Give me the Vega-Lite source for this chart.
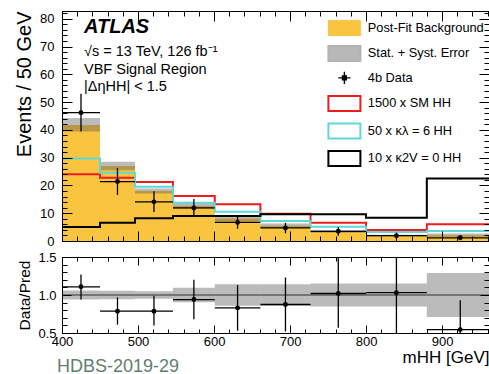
{
  "$schema": "https://vega.github.io/schema/vega-lite/v6.json",
  "background": "white",
  "padding": {"left": 14, "top": 10, "right": 0, "bottom": 0},
  "title": {"text": "HDBS-2019-29", "orient": "bottom", "anchor": "start", "frame": "bounds", "offset": -8, "dx": 43, "fontSize": 18, "fontWeight": "normal", "font": "Liberation Sans", "color": "#5e806e"},
  "datasets": {
    "bins": [
      {"lo": 400, "hi": 450, "mid": 425, "bkg": 41.8, "blo": 39.4, "bhi": 44.3, "d": 46.2, "dlo": 39.4, "dhi": 53.0, "r": 1.108, "rlo": 0.94, "rhi": 1.27, "qlo": 0.94, "qhi": 1.06},
      {"lo": 450, "hi": 496, "mid": 473, "bkg": 27.0, "blo": 25.5, "bhi": 28.5, "d": 21.4, "dlo": 16.6, "dhi": 26.3, "r": 0.787, "rlo": 0.61, "rhi": 0.97, "qlo": 0.945, "qhi": 1.055},
      {"lo": 496, "hi": 546, "mid": 521, "bkg": 18.0, "blo": 17.1, "bhi": 18.9, "d": 14.1, "dlo": 10.4, "dhi": 17.9, "r": 0.787, "rlo": 0.6, "rhi": 0.99, "qlo": 0.95, "qhi": 1.05},
      {"lo": 546, "hi": 601, "mid": 573.5, "bkg": 12.7, "blo": 11.6, "bhi": 13.8, "d": 11.9, "dlo": 8.6, "dhi": 15.1, "r": 0.94, "rlo": 0.68, "rhi": 1.2, "qlo": 0.905, "qhi": 1.095},
      {"lo": 601, "hi": 661, "mid": 631, "bkg": 8.1, "blo": 7.0, "bhi": 9.2, "d": 6.7, "dlo": 4.4, "dhi": 9.0, "r": 0.83, "rlo": 0.53, "rhi": 1.13, "qlo": 0.86, "qhi": 1.14},
      {"lo": 661, "hi": 727, "mid": 694, "bkg": 5.5, "blo": 4.7, "bhi": 6.3, "d": 4.7, "dlo": 2.8, "dhi": 6.5, "r": 0.875, "rlo": 0.52, "rhi": 1.23, "qlo": 0.86, "qhi": 1.14},
      {"lo": 727, "hi": 800, "mid": 763.5, "bkg": 3.5, "blo": 3.0, "bhi": 4.0, "d": 3.5, "dlo": 1.9, "dhi": 5.0, "r": 1.02, "rlo": 0.57, "rhi": 1.6, "qlo": 0.85, "qhi": 1.15},
      {"lo": 800, "hi": 880, "mid": 840, "bkg": 1.95, "blo": 1.65, "bhi": 2.25, "d": 1.9, "dlo": 0.8, "dhi": 3.0, "r": 1.03, "rlo": 0.4, "rhi": 1.6, "qlo": 0.85, "qhi": 1.15},
      {"lo": 880, "hi": 968, "mid": 924, "bkg": 2.1, "blo": 1.5, "bhi": 2.7, "d": 1.15, "dlo": 0.35, "dhi": 1.95, "r": 0.545, "rlo": 0.3, "rhi": 0.93, "qlo": 0.71, "qhi": 1.29}
    ],
    "hist": [
      {"m": 400, "s": "1500 x SM HH", "v": 24.0},
      {"m": 450, "s": "1500 x SM HH", "v": 22.8},
      {"m": 496, "s": "1500 x SM HH", "v": 21.2},
      {"m": 546, "s": "1500 x SM HH", "v": 16.2},
      {"m": 601, "s": "1500 x SM HH", "v": 13.2},
      {"m": 661, "s": "1500 x SM HH", "v": 9.8},
      {"m": 727, "s": "1500 x SM HH", "v": 6.6},
      {"m": 800, "s": "1500 x SM HH", "v": 4.0},
      {"m": 880, "s": "1500 x SM HH", "v": 6.0},
      {"m": 968, "s": "1500 x SM HH", "v": 6.0},
      {"m": 400, "s": "50 x κλ = 6 HH", "v": 29.7},
      {"m": 450, "s": "50 x κλ = 6 HH", "v": 24.6},
      {"m": 496, "s": "50 x κλ = 6 HH", "v": 19.5},
      {"m": 546, "s": "50 x κλ = 6 HH", "v": 13.8},
      {"m": 601, "s": "50 x κλ = 6 HH", "v": 10.5},
      {"m": 661, "s": "50 x κλ = 6 HH", "v": 7.2},
      {"m": 727, "s": "50 x κλ = 6 HH", "v": 5.1},
      {"m": 800, "s": "50 x κλ = 6 HH", "v": 3.2},
      {"m": 880, "s": "50 x κλ = 6 HH", "v": 3.6},
      {"m": 968, "s": "50 x κλ = 6 HH", "v": 3.6},
      {"m": 400, "s": "10 x κ2V = 0 HH", "v": 5.0},
      {"m": 450, "s": "10 x κ2V = 0 HH", "v": 6.6},
      {"m": 496, "s": "10 x κ2V = 0 HH", "v": 8.2},
      {"m": 546, "s": "10 x κ2V = 0 HH", "v": 9.0},
      {"m": 601, "s": "10 x κ2V = 0 HH", "v": 9.0},
      {"m": 661, "s": "10 x κ2V = 0 HH", "v": 9.6},
      {"m": 727, "s": "10 x κ2V = 0 HH", "v": 9.6},
      {"m": 800, "s": "10 x κ2V = 0 HH", "v": 8.4},
      {"m": 880, "s": "10 x κ2V = 0 HH", "v": 22.5},
      {"m": 968, "s": "10 x κ2V = 0 HH", "v": 22.5}
    ]
  },
  "spacing": 16,
  "bounds": "flush",
  "resolve": {"scale": {"x": "independent", "y": "independent"}},
  "vconcat": [
    {
      "width": 427,
      "height": 230,
      "title": {"text": "ATLAS", "subtitle": ["√s = 13 TeV, 126 fb⁻¹", "VBF Signal Region", "|ΔηHH| < 1.5"], "anchor": "start", "frame": "group", "orient": "top", "offset": -83, "dx": 22, "font": "Liberation Sans", "fontSize": 20, "fontStyle": "italic", "fontWeight": "bold", "color": "black", "subtitleFont": "Liberation Sans", "subtitleFontSize": 14.5, "subtitleColor": "black", "subtitleLineHeight": 17.5, "subtitlePadding": 8},
      "resolve": {"axis": {"x": "independent", "y": "independent"}},
      "layer": [
        {
          "data": {"name": "bins"},
          "mark": {"type": "rect", "fill": "#f9c440", "clip": true},
          "encoding": {
            "x": {"field": "lo", "type": "quantitative", "scale": {"domain": [400, 961.8], "nice": false, "zero": false},
                  "axis": {"orient": "bottom", "values": [400, 500, 600, 700, 800, 900], "labels": false, "ticks": true, "tickSize": -10, "domain": true, "title": null, "zindex": 2}},
            "x2": {"field": "hi"},
            "y": {"field": "bkg", "type": "quantitative", "scale": {"domain": [0, 82.8], "nice": false, "zero": false},
                  "axis": {"orient": "left", "values": [0, 10, 20, 30, 40, 50, 60, 70, 80], "ticks": false, "domain": false, "labelPadding": 8, "labelFlush": false, "labelOverlap": false, "labelFontSize": 13, "title": "Events / 50 GeV", "titleFontSize": 20, "titleAnchor": "end", "titlePadding": 5, "zindex": 2}},
            "y2": {"datum": 0}
          }
        },
        {
          "data": {"name": "bins"},
          "mark": {"type": "rect", "fill": "#555555", "fillOpacity": 0.4, "clip": true},
          "encoding": {
            "x": {"field": "lo", "type": "quantitative",
                  "axis": {"orient": "bottom", "values": [400, 420, 440, 460, 480, 500, 520, 540, 560, 580, 600, 620, 640, 660, 680, 700, 720, 740, 760, 780, 800, 820, 840, 860, 880, 900, 920, 940, 960], "labels": false, "ticks": true, "tickSize": -5, "domain": false, "title": null, "zindex": 2}},
            "x2": {"field": "hi"},
            "y": {"field": "blo", "type": "quantitative",
                  "axis": {"orient": "left", "values": [0, 10, 20, 30, 40, 50, 60, 70, 80], "labels": false, "ticks": true, "tickSize": -10, "domain": true, "title": null, "zindex": 2}},
            "y2": {"field": "bhi"}
          }
        },
        {
          "data": {"name": "hist"},
          "mark": {"type": "line", "interpolate": "step-after", "strokeWidth": 2, "strokeJoin": "miter", "clip": true},
          "encoding": {
            "x": {"field": "m", "type": "quantitative",
                  "axis": {"orient": "top", "values": [400, 500, 600, 700, 800, 900], "labels": false, "ticks": true, "tickSize": -10, "domain": true, "title": null, "zindex": 2}},
            "y": {"field": "v", "type": "quantitative",
                  "axis": {"orient": "left", "values": [0, 2, 4, 6, 8, 10, 12, 14, 16, 18, 20, 22, 24, 26, 28, 30, 32, 34, 36, 38, 40, 42, 44, 46, 48, 50, 52, 54, 56, 58, 60, 62, 64, 66, 68, 70, 72, 74, 76, 78, 80, 82], "labels": false, "ticks": true, "tickSize": -5, "domain": false, "title": null, "zindex": 2}},
            "color": {"field": "s", "type": "nominal",
                      "scale": {"domain": ["Post-Fit Background", "Stat. + Syst. Error", "4b Data", "1500 x SM HH", "50 x κλ = 6 HH", "10 x κ2V = 0 HH"], "range": ["#f9c440", "#b3b3b3", "#000000", "#ee1c1c", "#5fd8d8", "#000000"]},
                      "legend": {
                        "orient": "none", "legendX": 276, "legendY": 10.5, "title": null, "padding": 0,
                        "labelFont": "Liberation Sans", "labelFontSize": 12.8, "labelColor": "black", "labelOffset": 17, "rowPadding": 3.5, "symbolSize": 1024,
                        "encode": {
                          "symbols": {
                            "update": {
                              "shape": {"signal": "datum.value === '4b Data' ? 'M-0.38,0H0.38M0,-0.38V0.38M-0.12,-0.12H0.12V0.12H-0.12Z' : 'M-1,-0.47H1V0.47H-1Z'"},
                              "size": {"value": 1024},
                              "fill": {"signal": "datum.value === 'Post-Fit Background' ? '#f9c440' : datum.value === 'Stat. + Syst. Error' ? '#b8b8b8' : datum.value === '4b Data' ? '#000000' : 'transparent'"},
                              "stroke": {"signal": "datum.value === 'Post-Fit Background' ? '#222222' : datum.value === 'Stat. + Syst. Error' ? 'transparent' : datum.value === '1500 x SM HH' ? '#ee1c1c' : datum.value === '50 x κλ = 6 HH' ? '#5fd8d8' : '#000000'"},
                              "strokeWidth": {"signal": "datum.value === 'Post-Fit Background' ? 1 : datum.value === '4b Data' ? 1.4 : 2"},
                              "opacity": {"value": 1},
                              "fillOpacity": {"value": 1},
                              "strokeOpacity": {"value": 1}
                            }
                          }
                        }
                      }}
          }
        },
        {
          "data": {"name": "bins"},
          "mark": {"type": "rule", "color": "black", "strokeWidth": 1.3, "clip": true},
          "encoding": {
            "x": {"field": "mid", "type": "quantitative",
                  "axis": {"orient": "top", "values": [400, 420, 440, 460, 480, 500, 520, 540, 560, 580, 600, 620, 640, 660, 680, 700, 720, 740, 760, 780, 800, 820, 840, 860, 880, 900, 920, 940, 960], "labels": false, "ticks": true, "tickSize": -5, "domain": false, "title": null, "zindex": 2}},
            "y": {"field": "dlo", "type": "quantitative",
                  "axis": {"orient": "right", "values": [0, 10, 20, 30, 40, 50, 60, 70, 80], "labels": false, "ticks": true, "tickSize": -10, "domain": true, "title": null, "zindex": 2}},
            "y2": {"field": "dhi"}
          }
        },
        {
          "data": {"name": "bins"},
          "mark": {"type": "rule", "color": "black", "strokeWidth": 1.3, "clip": true},
          "encoding": {
            "x": {"field": "lo", "type": "quantitative", "axis": null},
            "x2": {"field": "hi"},
            "y": {"field": "d", "type": "quantitative",
                  "axis": {"orient": "right", "values": [0, 2, 4, 6, 8, 10, 12, 14, 16, 18, 20, 22, 24, 26, 28, 30, 32, 34, 36, 38, 40, 42, 44, 46, 48, 50, 52, 54, 56, 58, 60, 62, 64, 66, 68, 70, 72, 74, 76, 78, 80, 82], "labels": false, "ticks": true, "tickSize": -5, "domain": false, "title": null, "zindex": 2}}
          }
        },
        {
          "data": {"name": "bins"},
          "mark": {"type": "circle", "size": 24, "color": "black", "opacity": 1, "clip": true},
          "encoding": {
            "x": {"field": "mid", "type": "quantitative", "axis": null},
            "y": {"field": "d", "type": "quantitative", "axis": null}
          }
        }
      ]
    },
    {
      "width": 427,
      "height": 76,
      "resolve": {"axis": {"x": "independent", "y": "independent"}},
      "layer": [
        {
          "data": {"name": "bins"},
          "mark": {"type": "rect", "fill": "#555555", "fillOpacity": 0.4, "clip": true},
          "encoding": {
            "x": {"field": "lo", "type": "quantitative", "scale": {"domain": [400, 961.8], "nice": false, "zero": false},
                  "axis": {"orient": "bottom", "values": [400, 500, 600, 700, 800, 900], "format": "d", "ticks": false, "domain": false, "labelPadding": 2, "labelFlush": false, "labelOverlap": false, "labelFontSize": 13, "title": "mHH [GeV]", "titleAnchor": "end", "titleFontSize": 17, "titlePadding": 1, "zindex": 2}},
            "x2": {"field": "hi"},
            "y": {"field": "qlo", "type": "quantitative", "scale": {"domain": [0.5, 1.5], "nice": false, "zero": false},
                  "axis": {"orient": "left", "values": [0.5, 1, 1.5], "format": ".1f", "ticks": false, "domain": false, "labelPadding": 6, "labelFlush": false, "labelOverlap": false, "labelFontSize": 13, "title": "Data/Pred", "titleFontSize": 15.5, "titleAnchor": "middle", "titlePadding": 5, "zindex": 2}},
            "y2": {"field": "qhi"}
          }
        },
        {
          "data": {"name": "bins"},
          "mark": {"type": "rule", "color": "#333333", "strokeWidth": 1.2, "clip": true},
          "encoding": {
            "x": {"field": "lo", "type": "quantitative",
                  "axis": {"orient": "bottom", "values": [400, 500, 600, 700, 800, 900], "labels": false, "ticks": true, "tickSize": -8, "domain": true, "title": null, "zindex": 2}},
            "x2": {"field": "hi"},
            "y": {"datum": 1, "type": "quantitative",
                  "axis": {"orient": "left", "values": [0.5, 1, 1.5], "labels": false, "ticks": true, "tickSize": -9, "domain": true, "title": null, "zindex": 2}}
          }
        },
        {
          "data": {"name": "bins"},
          "mark": {"type": "rule", "color": "black", "strokeWidth": 1.3, "clip": true},
          "encoding": {
            "x": {"field": "mid", "type": "quantitative",
                  "axis": {"orient": "bottom", "values": [400, 420, 440, 460, 480, 500, 520, 540, 560, 580, 600, 620, 640, 660, 680, 700, 720, 740, 760, 780, 800, 820, 840, 860, 880, 900, 920, 940, 960], "labels": false, "ticks": true, "tickSize": -4, "domain": false, "title": null, "zindex": 2}},
            "y": {"field": "rlo", "type": "quantitative",
                  "axis": {"orient": "left", "values": [0.5, 0.6, 0.7, 0.8, 0.9, 1, 1.1, 1.2, 1.3, 1.4, 1.5], "labels": false, "ticks": true, "tickSize": -5, "domain": false, "title": null, "zindex": 2}},
            "y2": {"field": "rhi"}
          }
        },
        {
          "data": {"name": "bins"},
          "mark": {"type": "rule", "color": "black", "strokeWidth": 1.3, "clip": true},
          "encoding": {
            "x": {"field": "lo", "type": "quantitative",
                  "axis": {"orient": "top", "values": [400, 500, 600, 700, 800, 900], "labels": false, "ticks": true, "tickSize": -8, "domain": true, "title": null, "zindex": 2}},
            "x2": {"field": "hi"},
            "y": {"field": "r", "type": "quantitative",
                  "axis": {"orient": "right", "values": [0.5, 1, 1.5], "labels": false, "ticks": true, "tickSize": -9, "domain": true, "title": null, "zindex": 2}}
          }
        },
        {
          "data": {"name": "bins"},
          "mark": {"type": "circle", "size": 24, "color": "black", "opacity": 1, "clip": true},
          "encoding": {
            "x": {"field": "mid", "type": "quantitative",
                  "axis": {"orient": "top", "values": [400, 420, 440, 460, 480, 500, 520, 540, 560, 580, 600, 620, 640, 660, 680, 700, 720, 740, 760, 780, 800, 820, 840, 860, 880, 900, 920, 940, 960], "labels": false, "ticks": true, "tickSize": -4, "domain": false, "title": null, "zindex": 2}},
            "y": {"field": "r", "type": "quantitative",
                  "axis": {"orient": "right", "values": [0.5, 0.6, 0.7, 0.8, 0.9, 1, 1.1, 1.2, 1.3, 1.4, 1.5], "labels": false, "ticks": true, "tickSize": -5, "domain": false, "title": null, "zindex": 2}}
          }
        }
      ]
    }
  ],
  "config": {
    "font": "Liberation Sans",
    "view": {"stroke": "black", "strokeWidth": 1},
    "axis": {"grid": false, "domainColor": "black", "domainWidth": 1, "tickColor": "black", "tickWidth": 1, "labelColor": "black", "titleColor": "black", "labelFont": "Liberation Sans", "titleFont": "Liberation Sans", "titleFontWeight": "normal"}
  }
}
